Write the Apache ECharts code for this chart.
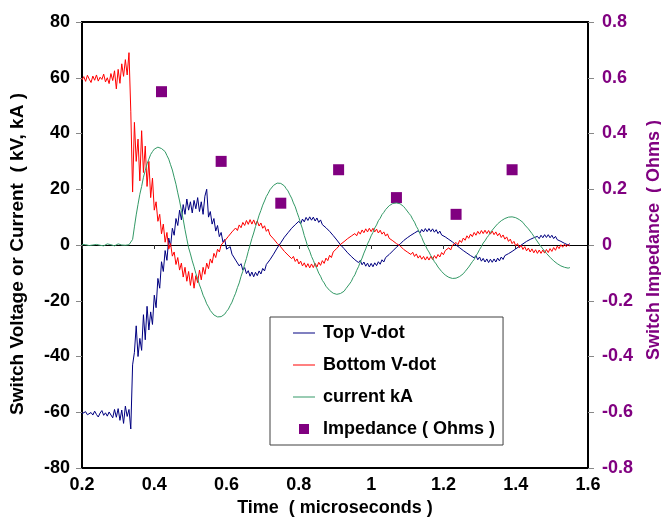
<!DOCTYPE html>
<html>
<head>
<meta charset="utf-8">
<script src="https://cdn.jsdelivr.net/npm/echarts@6/dist/echarts.min.js"></script>
<style>
  html, body { margin: 0; padding: 0; background: #ffffff; }
  #chart { width: 661px; height: 521px; }
</style>
</head>
<body>
<div id="chart"></div>
<script>
// Scope traces: one sample every 0.005 microseconds starting at 0.2
const sampleStart = 0.2;
const sampleStep = 0.005;

// Top V-dot (kV); each row covers 0.05 microseconds
const topVdot = [
  -60.5, -61.2, -59.8, -60.9, -61.5, -60.1, -61.0, -59.6, -60.8, -61.7, // 0.20
  -60.3, -59.4, -61.1, -60.2, -61.4, -59.9, -60.6, -62.0, -59.0, -61.8, // 0.25
  -58.7, -62.9, -59.2, -64.0, -57.8, -61.5, -59.0, -66.0, -43.0, -38.5, // 0.30
  -29.0, -40.0, -33.5, -37.8, -25.0, -34.0, -22.0, -30.5, -24.0, -28.5, // 0.35
  -18.0, -22.5, -12.0, -15.5, -6.0, -9.5, -2.0, -5.5, 2.5, -0.5,        // 0.40
  6.0, 3.5, 9.5, 7.0, 12.5, 9.0, 14.5, 11.0, 16.5, 12.5,                // 0.45
  15.5, 11.5, 16.0, 13.0, 17.0, 12.0, 15.5, 11.0, 17.5, 20.0,           // 0.50
  10.0, 12.0, 7.5, 9.5, 5.0, 7.0, 3.0, 4.5, 1.0, 2.0,                   // 0.55
  -1.5, -0.8, -0.6, -3.3, -2.9, -5.4, -4.9, -7.5, -6.7, -9.0,           // 0.60
  -8.1, -10.3, -9.2, -11.2, -9.7, -11.4, -9.8, -11.0, -9.3, -10.4,      // 0.65
  -8.4, -9.3, -7.0, -7.7, -5.3, -5.8, -3.3, -3.6, -1.1, -1.3,           // 0.70
  0.8, 0.6, 2.8, 2.3, 4.4, 3.9, 6.0, 5.4, 7.3, 6.6,                     // 0.75
  8.5, 7.6, 9.3, 8.3, 9.9, 8.8, 10.1, 8.9, 10.0, 8.6,                   // 0.80
  9.7, 8.1, 9.0, 7.3, 8.0, 6.2, 6.8, 4.9, 5.4, 3.4,                     // 0.85
  3.8, 1.8, 2.1, 0.1, 0.2, -1.3, -1.0, -2.8, -2.4, -4.1,                // 0.90
  -3.6, -5.3, -4.6, -6.3, -5.5, -7.1, -6.1, -7.6, -6.5, -7.9,           // 0.95
  -6.6, -7.8, -6.4, -7.4, -6.0, -6.9, -5.3, -6.1, -4.5, -5.1,           // 1.00
  -3.4, -4.0, -2.1, -2.7, -0.8, -1.2, 0.3, 0.0, 1.6, 1.1,               // 1.05
  2.6, 2.0, 3.5, 2.9, 4.3, 3.6, 5.1, 4.3, 5.6, 4.7,                     // 1.10
  5.9, 4.8, 5.9, 4.8, 5.8, 4.6, 5.5, 4.1, 5.0, 3.6,                     // 1.15
  4.3, 2.9, 3.5, 2.0, 2.6, 1.1, 1.5, 0.0, 0.3, -1.0,                    // 1.20
  -0.5, -2.0, -1.4, -2.9, -2.3, -3.8, -3.1, -4.6, -3.8, -5.3,           // 1.25
  -4.3, -5.8, -4.8, -6.1, -5.0, -6.3, -5.1, -6.2, -5.0, -6.1,           // 1.30
  -4.7, -5.7, -4.3, -5.2, -3.8, -4.5, -3.1, -3.8, -2.3, -2.9,           // 1.35
  -1.4, -2.0, -0.5, -1.0, 0.4, 0.0, 1.3, 0.7, 2.0, 1.3,                 // 1.40
  2.6, 1.9, 3.1, 2.3, 3.5, 2.6, 3.7, 2.7, 3.7, 2.6,                     // 1.45
  3.5, 2.3, 3.1, 1.9, 2.6, 1.3, 2.0, 0.6, 1.3, 0.0,                     // 1.50
  0.5                                                                    // 1.55
];

// Bottom V-dot (kV)
const bottomVdot = [
  59.2, 60.4, 58.7, 60.9, 59.5, 58.3, 60.6, 59.1, 61.0, 58.8,           // 0.20
  60.2, 59.4, 61.3, 58.5, 60.0, 57.9, 61.5, 59.0, 62.5, 56.0,           // 0.25
  63.0, 58.0, 65.0, 60.5, 66.5, 61.0, 69.0, 48.0, 19.0, 44.0,           // 0.30
  30.0, 38.0, 23.0, 41.0, 26.0, 35.5, 21.0, 30.0, 17.0, 24.0,           // 0.35
  12.5, 15.5, 8.5, 11.0, 4.0, 7.5, 1.0, 4.5, -1.5, 0.5,                 // 0.40
  -4.0, -2.5, -7.0, -4.5, -9.0, -6.5, -11.5, -8.0, -13.0, -9.5,         // 0.45
  -14.5, -10.0, -15.5, -11.0, -13.5, -9.0, -12.5, -8.0, -10.5, -6.5,    // 0.50
  -8.5, -5.0, -6.5, -3.0, -4.5, -1.5, -2.5, 0.0, -0.5, 1.5,             // 0.55
  1.0, 3.1, 2.6, 4.7, 4.0, 6.1, 5.2, 7.2, 6.2, 8.1,                     // 0.60
  7.0, 8.8, 7.4, 9.1, 7.5, 9.0, 7.3, 8.6, 6.8, 7.9,                     // 0.65
  6.0, 6.9, 4.9, 5.7, 3.6, 4.3, 2.2, 2.8, 0.6, 1.1,                     // 0.70
  -0.7, -0.4, -2.3, -1.7, -3.6, -2.9, -4.9, -4.1, -5.9, -5.0,           // 0.75
  -6.8, -5.8, -7.5, -6.4, -8.0, -6.7, -8.2, -6.8, -8.1, -6.6,           // 0.80
  -7.9, -6.2, -7.3, -5.6, -6.6, -4.7, -5.6, -3.7, -4.5, -2.5,           // 0.85
  -3.2, -1.2, -1.9, 0.2, -0.4, 1.2, 0.6, 2.3, 1.6, 3.2,                 // 0.90
  2.5, 4.1, 3.3, 4.8, 3.9, 5.4, 4.4, 5.8, 4.7, 6.0,                     // 0.95
  4.8, 6.0, 4.7, 5.7, 4.3, 5.3, 3.9, 4.7, 3.2, 4.0,                     // 1.00
  2.4, 3.1, 1.5, 2.2, 0.5, 1.1, -0.3, 0.1, -1.6, -0.9,                  // 1.05
  -2.5, -1.8, -3.4, -2.6, -4.1, -3.2, -4.7, -3.8, -5.1, -4.1,           // 1.10
  -5.4, -4.2, -5.4, -4.1, -5.2, -3.8, -4.8, -3.4, -4.3, -2.7,           // 1.15
  -3.5, -2.0, -2.7, -1.0, -1.8, -0.1, -0.8, 0.9, 0.1, 1.7,              // 1.20
  0.9, 2.5, 1.7, 3.3, 2.4, 3.9, 3.0, 4.5, 3.5, 4.9,                     // 1.25
  3.9, 5.2, 4.1, 5.3, 4.1, 5.2, 3.9, 5.0, 3.7, 4.7,                     // 1.30
  3.3, 4.2, 2.7, 3.6, 2.1, 2.9, 1.3, 2.1, 0.5, 1.3,                     // 1.35
  -0.3, 0.5, -1.0, -0.1, -1.6, -0.6, -2.1, -1.1, -2.5, -1.4,            // 1.40
  -2.8, -1.7, -3.0, -1.8, -3.0, -1.8, -2.9, -1.6, -2.7, -1.3,           // 1.45
  -2.3, -0.9, -1.9, -0.4, -1.3, 0.1, -0.8, 0.3, -0.6, 0.2,              // 1.50
  -0.4                                                                   // 1.55
];

// Switch current (kA)
const currentKA = [
  0.2, -0.3, 0.1, 0.4, -0.2, 0.3, 0.0, -0.4, 0.2, 0.5,                  // 0.20
  -0.1, 0.3, -0.3, 0.2, 0.4, -0.2, 0.1, 0.3, -0.3, 0.2,                 // 0.25
  0.4, -0.2, 0.0, 0.3, -0.1, 0.5, 0.1, 0.3, 2.0, 6.5,                   // 0.30
  10.8, 14.6, 18.2, 21.0, 24.3, 26.7, 29.1, 30.8, 32.5, 33.5,           // 0.35
  34.4, 34.7, 35.1, 34.8, 34.6, 34.1, 33.5, 32.1, 30.8, 28.8,           // 0.40
  26.9, 24.3, 21.8, 18.7, 15.8, 12.4, 9.2, 5.5, 2.2, -1.0,              // 0.45
  -3.2, -5.7, -7.8, -10.2, -12.1, -14.3, -16.0, -18.0, -19.4, -21.1,    // 0.50
  -22.2, -23.5, -24.2, -25.1, -25.3, -25.8, -25.7, -25.7, -25.2, -24.8, // 0.55
  -23.8, -23.0, -21.7, -20.5, -18.8, -17.3, -15.3, -13.6, -11.3, -9.4,  // 0.60
  -6.9, -4.8, -2.3, 0.0, 2.3, 4.3, 6.6, 8.5, 10.7, 12.4,                // 0.65
  14.3, 15.8, 17.4, 18.5, 19.8, 20.5, 21.4, 21.7, 22.2, 22.1,           // 0.70
  22.1, 21.6, 21.2, 20.2, 19.4, 18.0, 16.8, 15.1, 13.7, 11.7,           // 0.75
  9.9, 7.7, 5.8, 3.4, 1.4, -0.8, -2.2, -4.1, -5.5, -7.2,                // 0.80
  -8.5, -10.1, -11.2, -12.7, -13.6, -14.8, -15.4, -16.3, -16.7, -17.3,  // 0.85
  -17.4, -17.7, -17.4, -17.4, -16.9, -16.6, -15.7, -15.1, -14.0, -13.1, // 0.90
  -11.7, -10.7, -9.1, -7.8, -6.1, -4.7, -2.9, -1.4, 0.4, 1.7,           // 0.95
  3.3, 4.5, 6.1, 7.2, 8.7, 9.6, 10.9, 11.7, 12.7, 13.3,                 // 1.00
  14.1, 14.3, 14.9, 14.9, 15.1, 14.8, 14.8, 14.2, 13.8, 13.0,           // 1.05
  12.4, 11.3, 10.5, 9.2, 8.2, 6.7, 5.6, 4.0, 2.7, 1.1,                  // 1.10
  -0.1, -1.5, -2.5, -3.8, -4.7, -6.0, -6.8, -7.9, -8.6, -9.5,           // 1.15
  -10.0, -10.8, -11.0, -11.6, -11.6, -12.0, -11.8, -11.9, -11.5, -11.3, // 1.20
  -10.7, -10.3, -9.5, -8.9, -7.9, -7.2, -6.0, -5.2, -3.9, -2.9,         // 1.25
  -1.6, -0.6, 0.7, 1.5, 2.6, 3.4, 4.5, 5.1, 6.1, 6.7,                   // 1.30
  7.6, 8.0, 8.7, 9.0, 9.5, 9.6, 10.0, 9.9, 10.1, 9.8,                   // 1.35
  9.8, 9.3, 9.1, 8.4, 8.1, 7.2, 6.7, 5.8, 5.2, 4.1,                     // 1.40
  3.4, 2.2, 1.5, 0.3, -0.4, -1.4, -2.0, -3.0, -3.5, -4.4,               // 1.45
  -4.8, -5.7, -6.0, -6.7, -6.9, -7.5, -7.6, -8.0, -8.0, -8.3,           // 1.50
  -8.1                                                                   // 1.55
];

// Switch impedance samples (Ohms) against time (microseconds)
const impedanceTime = [0.42, 0.585, 0.75, 0.91, 1.07, 1.235, 1.39];
const impedanceOhms = [0.55, 0.30, 0.15, 0.27, 0.17, 0.11, 0.27];

// Axis ticks
const timeTicks = [0.2, 0.4, 0.6, 0.8, 1.0, 1.2, 1.4, 1.6];
const leftTicks = [-80, -60, -40, -20, 0, 20, 40, 60, 80];
const rightTicks = [-0.8, -0.6, -0.4, -0.2, 0, 0.2, 0.4, 0.6, 0.8];

const FONT = "'Liberation Sans', Arial, sans-serif";
const PURPLE = '#800080';
const LINE_ICON = 'path://M0,0H22V1H0Z';
const SQUARE_ICON = 'path://M0,0H10V10H0Z';

function toPairs(values) {
  return values.map((v, i) => [+(sampleStart + i * sampleStep).toFixed(3), v]);
}
function fmt(v) {
  return String(+Number(v).toFixed(1));
}

const chart = echarts.init(document.getElementById('chart'), null, { renderer: 'canvas' });

const tickLabel = { fontFamily: FONT, fontWeight: 'bold', fontSize: 18, color: '#000' };

chart.setOption({
  animation: false,
  backgroundColor: '#ffffff',
  grid: {
    left: 82, right: 73, top: 22, bottom: 53,
    outerBoundsMode: 'none',
    show: true, borderColor: '#000', borderWidth: 2, backgroundColor: 'transparent'
  },
  xAxis: [
    {
      type: 'value', position: 'bottom',
      min: timeTicks[0], max: timeTicks[timeTicks.length - 1],
      interval: timeTicks[1] - timeTicks[0],
      axisLine: { show: false, onZero: false },
      axisTick: { show: false },
      splitLine: { show: false },
      axisLabel: Object.assign({ margin: 8, formatter: fmt }, tickLabel),
      name: 'Time  ( microseconds )',
      nameLocation: 'middle', nameGap: 29,
      nameTextStyle: { fontFamily: FONT, fontWeight: 'bold', fontSize: 18, color: '#000' }
    },
    {
      // horizontal zero line with its ticks
      type: 'value', position: 'bottom',
      min: timeTicks[0], max: timeTicks[timeTicks.length - 1],
      interval: timeTicks[1] - timeTicks[0],
      axisLine: { show: true, onZero: true, onZeroAxisIndex: 0, lineStyle: { color: '#000', width: 1 } },
      axisTick: { show: true, length: 4, lineStyle: { color: '#333', width: 1 } },
      axisLabel: { show: false },
      splitLine: { show: false }
    }
  ],
  yAxis: [
    {
      type: 'value', position: 'left',
      min: leftTicks[0], max: leftTicks[leftTicks.length - 1],
      interval: leftTicks[1] - leftTicks[0],
      axisLine: { show: true, onZero: false, lineStyle: { color: '#000', width: 2 } },
      axisTick: { show: true, length: 6, lineStyle: { color: '#888', width: 1 } },
      splitLine: { show: false },
      axisLabel: Object.assign({ margin: 12, formatter: fmt }, tickLabel),
      name: 'Switch Voltage or Current  ( kV, kA )',
      nameLocation: 'middle', nameGap: 55,
      nameTextStyle: { fontFamily: FONT, fontWeight: 'bold', fontSize: 19, color: '#000', padding: [0, 18, 0, 0] }
    },
    {
      type: 'value', position: 'right',
      min: rightTicks[0], max: rightTicks[rightTicks.length - 1],
      interval: 0.2,
      axisLine: { show: true, onZero: false, lineStyle: { color: '#000', width: 2 } },
      axisTick: { show: true, length: 6, lineStyle: { color: '#888', width: 1 } },
      splitLine: { show: false },
      axisLabel: Object.assign({ margin: 14, formatter: fmt }, tickLabel, { color: PURPLE }),
      name: 'Switch Impedance  ( Ohms )',
      nameLocation: 'middle', nameGap: 57,
      nameTextStyle: { fontFamily: FONT, fontWeight: 'bold', fontSize: 18, color: PURPLE, padding: [0, 0, 0, 10] }
    }
  ],
  legend: {
    orient: 'vertical',
    left: 270, top: 317,
    padding: [7, 8, 7, 23],
    itemWidth: 22, itemHeight: 10, itemGap: 14,
    backgroundColor: '#ffffff',
    borderColor: '#404040', borderWidth: 1,
    textStyle: { fontFamily: FONT, fontWeight: 'bold', fontSize: 18, color: '#000', lineHeight: 18, padding: [0, 0, 0, 3] },
    data: [
      { name: 'Top V-dot', icon: LINE_ICON },
      { name: 'Bottom V-dot', icon: LINE_ICON },
      { name: 'current kA', icon: LINE_ICON },
      { name: 'Impedance ( Ohms )', icon: SQUARE_ICON }
    ]
  },
  series: [
    {
      name: 'Top V-dot', type: 'line', xAxisIndex: 0, yAxisIndex: 0,
      data: toPairs(topVdot), showSymbol: false, symbol: 'none',
      lineStyle: { color: '#000080', width: 1 }, itemStyle: { color: '#000080' }
    },
    {
      name: 'Bottom V-dot', type: 'line', xAxisIndex: 0, yAxisIndex: 0,
      data: toPairs(bottomVdot), showSymbol: false, symbol: 'none',
      lineStyle: { color: '#ff0000', width: 1 }, itemStyle: { color: '#ff0000' }
    },
    {
      name: 'current kA', type: 'line', xAxisIndex: 0, yAxisIndex: 0,
      data: toPairs(currentKA), showSymbol: false, symbol: 'none',
      lineStyle: { color: '#339966', width: 1 }, itemStyle: { color: '#339966' }
    },
    {
      name: 'Impedance ( Ohms )', type: 'scatter', xAxisIndex: 0, yAxisIndex: 1,
      data: impedanceTime.map((t, i) => [t, impedanceOhms[i]]),
      symbol: 'rect', symbolSize: 11,
      itemStyle: { color: PURPLE, opacity: 1 }
    }
  ]
});
</script>
</body>
</html>
